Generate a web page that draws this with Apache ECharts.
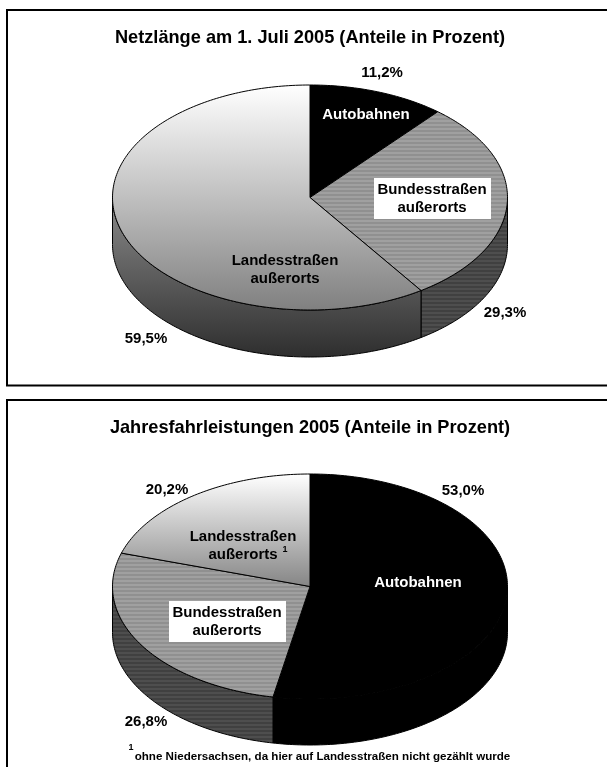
<!DOCTYPE html>
<html><head><meta charset="utf-8">
<style>html,body{margin:0;padding:0;background:#fff}#c{width:607px;height:767px}</style>
<script src="https://cdn.jsdelivr.net/npm/echarts@6/dist/echarts.min.js"></script>
</head><body><div id="c"></div>
<script>
const categoriesTop = ['Autobahnen', 'Bundesstraßen', 'Landesstraßen'];
const valuesTop = [11.2, 29.3, 59.5];
const categoriesBottom = ['Autobahnen', 'Bundesstraßen', 'Landesstraßen'];
const valuesBottom = [53.0, 26.8, 20.2];
const titleTop = 'Netzlänge am 1. Juli 2005 (Anteile in Prozent)';
const titleBottom = 'Jahresfahrleistungen 2005 (Anteile in Prozent)';
const footnote = 'ohne Niedersachsen, da hier auf Landesstraßen nicht gezählt wurde';

const FONT = '"Liberation Sans", Arial, sans-serif';
function stripes(a, b) {
  const cv = document.createElement('canvas');
  cv.width = 4; cv.height = 4;
  const g = cv.getContext('2d');
  g.fillStyle = a; g.fillRect(0, 0, 4, 4);
  g.fillStyle = b; g.fillRect(0, 0, 4, 2);
  return { image: cv, repeat: 'repeat' };
}
const stripeTop = stripes('#909090', '#a0a0a0');
const stripeSide = stripes('#404040', '#4e4e4e');
function grad(c0, c1, y0, y1) {
  return { type: 'linear', x: 0, y: y0, x2: 0, y2: y1, global: true,
    colorStops: [{ offset: 0, color: c0 }, { offset: 1, color: c1 }] };
}
function pieSeries(values, geo, styles) {
  const { cx, cy, rx, ry, depth } = geo;
  const total = values.reduce((a, b) => a + b, 0);
  const pt = (deg, dy) => {
    const t = deg * Math.PI / 180;
    return [cx + rx * Math.sin(t), cy - ry * Math.cos(t) + (dy || 0)];
  };
  const ranges = []; let acc = 0;
  values.forEach(v => { const s = acc / total * 360; acc += v; ranges.push([s, acc / total * 360]); });
  return {
    type: 'custom', coordinateSystem: 'none', silent: true, clip: false,
    data: values.map((v, i) => [i, v]),
    renderItem(params) {
      const i = params.dataIndex, [a, b] = ranges[i], st = styles[i], children = [];
      // side wall: only the front half of the ellipse (90..270 degrees) is visible
      const s0 = Math.max(a, 90), s1 = Math.min(b, 270);
      if (s1 > s0) {
        const top = [], bot = [];
        for (let d = s0; d < s1; d += 1) { top.push(pt(d)); bot.push(pt(d, depth)); }
        top.push(pt(s1)); bot.push(pt(s1, depth));
        children.push({ type: 'polygon', z2: 1, shape: { points: top.concat(bot.reverse()) },
          style: { fill: st.side(geo), stroke: '#000', lineWidth: 1 } });
      }
      // top face
      const pts = [[cx, cy]];
      for (let d = a; d < b; d += 1) pts.push(pt(d));
      pts.push(pt(b));
      children.push({ type: 'polygon', z2: 2, shape: { points: pts },
        style: { fill: st.top(geo), stroke: '#000', lineWidth: 1 } });
      return { type: 'group', children };
    }
  };
}
const black = () => '#000';
const geoTop = { cx: 310, cy: 197.5, rx: 197.5, ry: 112.5, depth: 47 };
const geoBottom = { cx: 310, cy: 586.5, rx: 197.5, ry: 112.5, depth: 46 };
const stylesTop = [
  { top: black, side: black },
  { top: () => stripeTop, side: () => stripeSide },
  { top: g => grad('#ffffff', '#808080', g.cy - g.ry, g.cy + g.ry),
    side: g => grad('#8a8a8a', '#2e2e2e', g.cy, g.cy + g.ry + g.depth) }
];
const stylesBottom = [
  { top: black, side: black },
  { top: () => stripeTop, side: () => stripeSide },
  { top: g => grad('#ffffff', '#808080', g.cy - g.ry, g.cy + 5), side: () => '#555' }
];
function txt(x, y, text, opt) {
  return Object.assign({ type: 'text', z: 20, x, y: y + 1,
    style: Object.assign({ text, font: 'bold 15px ' + FONT, fill: '#000', align: 'center', verticalAlign: 'middle' }, opt || {}) });
}
const pct = v => v.toFixed(1).replace('.', ',') + '%';
const whiteBox = (x, y, w, h) => ({ type: 'rect', z: 15, shape: { x, y, width: w, height: h }, style: { fill: '#fff' } });
const panel = (x, y, w, h) => ({ type: 'rect', z: 0, shape: { x, y, width: w, height: h },
  style: { fill: 'none', stroke: '#000', lineWidth: 2 } });

const graphics = [
  panel(7, 10, 640, 375.5),
  panel(7, 400, 640, 420),
  txt(310, 37, titleTop, { font: 'bold 18.2px ' + FONT }),
  txt(310, 427, titleBottom, { font: 'bold 18.2px ' + FONT }),
  txt(382, 72, pct(valuesTop[0])),
  txt(505, 312, pct(valuesTop[1])),
  txt(146, 338, pct(valuesTop[2])),
  txt(366, 114, categoriesTop[0], { fill: '#fff' }),
  whiteBox(374, 178, 117, 41),
  txt(432, 189, categoriesTop[1]),
  txt(432, 207, 'außerorts'),
  txt(285, 260, categoriesTop[2]),
  txt(285, 278, 'außerorts'),
  txt(463, 490, pct(valuesBottom[0])),
  txt(146, 721, pct(valuesBottom[1])),
  txt(167, 489, pct(valuesBottom[2])),
  txt(418, 582, categoriesBottom[0], { fill: '#fff' }),
  whiteBox(169, 601, 117, 41),
  txt(227, 612, categoriesBottom[1]),
  txt(227, 630, 'außerorts'),
  txt(243, 536, categoriesBottom[2]),
  txt(243, 554, 'außerorts'),
  txt(285, 549, '1', { font: 'bold 9px ' + FONT }),
  txt(131, 747, '1', { font: 'bold 9px ' + FONT }),
  txt(322.5, 755.5, footnote, { font: 'bold 11.6px ' + FONT })
];
const chart = echarts.init(document.getElementById('c'), null, { renderer: 'canvas' });
chart.setOption({
  animation: false, backgroundColor: '#fff',
  series: [pieSeries(valuesTop, geoTop, stylesTop), pieSeries(valuesBottom, geoBottom, stylesBottom)],
  graphic: { elements: graphics }
});
</script></body></html>
